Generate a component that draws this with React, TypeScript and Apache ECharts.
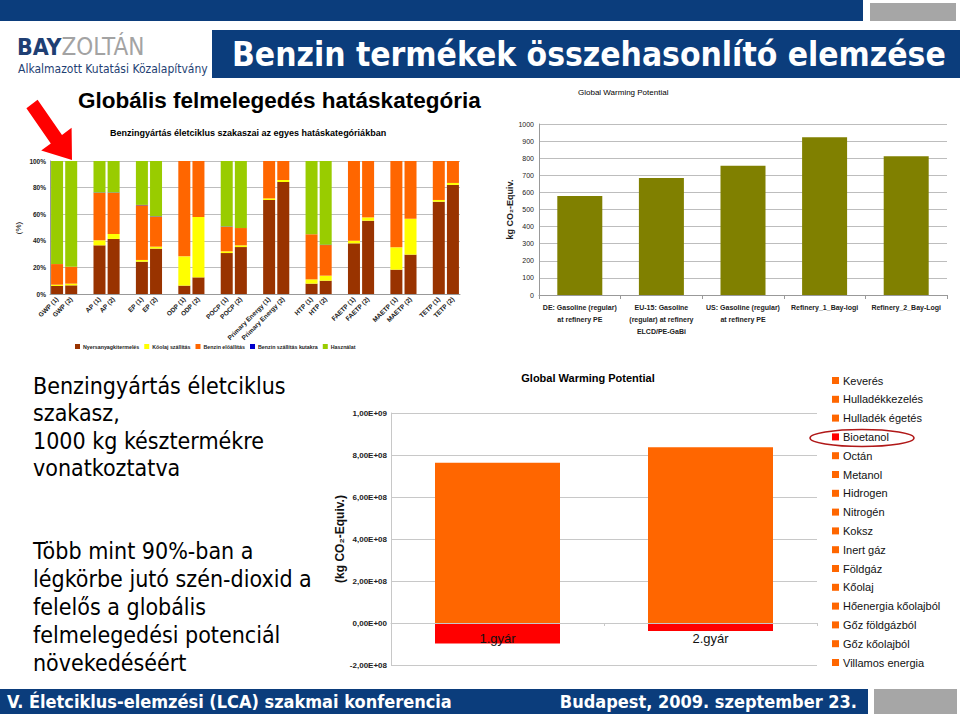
import React, { useEffect, useRef } from 'react';
import * as echarts from 'echarts';

// ---------- Top-left chart: life-cycle stage shares per impact category (%) ----------
const impactCategories = ['GWP (1)', 'GWP (2)', 'AP (1)', 'AP (2)', 'EP (1)', 'EP (2)', 'ODP (1)', 'ODP (2)', 'POCP (1)', 'POCP (2)', 'Primary Energy (1)', 'Primary Energy (2)', 'HTP (1)', 'HTP (2)', 'FAETP (1)', 'FAETP (2)', 'MAETP (1)', 'MAETP (2)', 'TETP (1)', 'TETP (2)'];
const stageNames = ['Nyersanyagkitermelés', 'Kőolaj szállítás', 'Benzin előállítás', 'Benzin szállítás kutakra', 'Használat'];
const nyersanyagkitermeles = [6, 6.5, 36.6, 41.4, 24.3, 34.1, 6.3, 12.5, 30.8, 35.3, 70.7, 84.2, 7.8, 10, 38.1, 55.1, 18.3, 29.6, 69.4, 82];
const koolajSzallitas = [1, 1.3, 3.8, 3.7, 1.3, 1.5, 22, 45.4, 1.3, 1.3, 1.2, 1.5, 3.2, 3.8, 2, 2.5, 16.8, 27, 1.3, 1.5];
const benzinElooallitas = [15.5, 12.7, 35.6, 30.9, 41.1, 22.5, 71.7, 42.1, 18.3, 13, 28.1, 14.3, 33.9, 23, 59.9, 42.4, 64.9, 43.4, 29.3, 16.5];
const benzinSzallitasKutakra = [0, 0, 0.3, 0.3, 0.3, 0.3, 0, 0, 0.3, 0, 0, 0, 0, 0.3, 0, 0, 0, 0, 0, 0];
const hasznalat = [77.5, 79.5, 23.7, 23.7, 33, 41.6, 0, 0, 49.3, 50.4, 0, 0, 55.1, 62.9, 0, 0, 0, 0, 0, 0];
const percentTicks = [0, 20, 40, 60, 80, 100];

// ---------- Top-right chart: GWP, kg CO2-Equiv. ----------
const refineryLabels = ['DE: Gasoline (regular)\nat refinery PE', 'EU-15: Gasoline\n(regular) at refinery\nELCD/PE-GaBi', 'US: Gasoline (regular)\nat refinery PE', 'Refinery_1_Bay-logi', 'Refinery_2_Bay-Logi'];
const gwpPerTonne = [579, 684, 756, 922, 811];

// ---------- Bottom chart: GWP per plant ----------
const plants = ['1.gyár', '2.gyár'];
const inputNames = ['Keverés', 'Hulladékkezelés', 'Hulladék égetés', 'Bioetanol', 'Octán', 'Metanol', 'Hidrogen', 'Nitrogén', 'Koksz', 'Inert gáz', 'Földgáz', 'Kőolaj', 'Hőenergia kőolajból', 'Gőz földgázból', 'Gőz kőolajból', 'Villamos energia'];
const plantOrangeTotal = [7.63e8, 8.37e8];
const plantBioetanol = [-0.98e8, -0.38e8];
const bottomAxisMin = -2e8;
const bottomAxisMax = 1e9;

const stageColors = ['#993300', '#ffff00', '#ff6600', '#0000cc', '#99cc00'];
const stageData = [nyersanyagkitermeles, koolajSzallitas, benzinElooallitas, benzinSzallitasKutakra, hasznalat];

const NAVY = '#0b3d7c';
const COND = '"DejaVu Sans Condensed", "DejaVu Sans", sans-serif';
const ARIAL = '"Liberation Sans", Arial, sans-serif';

function withGaps<T>(arr: T[], blank: T): T[] {
  const out: T[] = [];
  arr.forEach((v, i) => {
    out.push(v);
    if (i % 2 === 1 && i < arr.length - 1) out.push(blank);
  });
  return out;
}

function sci(v: number): string {
  if (v === 0) return '0,00E+00';
  const e = Math.floor(Math.log10(Math.abs(v)) + 1e-9);
  const m = v / Math.pow(10, e);
  return m.toFixed(2).replace('.', ',') + 'E' + (e < 0 ? '-' : '+') + String(Math.abs(e)).padStart(2, '0');
}

function txt(text: string, x: number, y: number, font: string, fill = '#000', align = 'left', extra: any = {}) {
  return { type: 'text', x, y, silent: true, style: { text, x: 0, y: 0, font, fill, align, verticalAlign: 'middle' }, ...extra };
}

function buildOption(): any {
  const tlCats = withGaps(impactCategories, '');
  const bottomGrid = { left: 391, top: 413, width: 426, height: 252 };
  const zeroOffset = -bottomGrid.height * (0 - bottomAxisMin) / (bottomAxisMax - bottomAxisMin);

  const graphic: any[] = [
    // header bars
    { type: 'rect', shape: { x: 0, y: 0, width: 863, height: 21 }, style: { fill: NAVY } },
    { type: 'rect', shape: { x: 870, y: 3, width: 86, height: 18 }, style: { fill: '#a6a6a6' } },
    { type: 'rect', shape: { x: 212, y: 30, width: 748, height: 48 }, style: { fill: NAVY } },
    txt('Benzin termékek összehasonlító elemzése', 232, 54, 'bold 33.3px ' + COND, '#ffffff'),
    // logo
    {
      type: 'text', x: 17, y: 47, silent: true,
      style: {
        text: '{a|BAY}{b|ZOLTÁN}', x: 0, y: 0, align: 'left', verticalAlign: 'middle',
        rich: {
          a: { font: 'bold 23px ' + COND, fill: '#1f3f73' },
          b: { font: '24px ' + COND, fill: '#a3a3a3' },
        },
      },
    },
    txt('Alkalmazott Kutatási Közalapítvány', 18, 69, '12px ' + COND, '#1f3f73'),
    // titles
    txt('Globális felmelegedés hatáskategória', 78, 100, 'bold 22.5px ' + ARIAL),
    txt('Global Warming Potential', 578, 92, '8px ' + ARIAL),
    txt('Benzingyártás életciklus szakaszai az egyes hatáskategóriákban', 110, 133, 'bold 9px ' + ARIAL),
    txt('(%)', 18, 228, '8px ' + ARIAL, '#000', 'center', { rotation: Math.PI / 2 }),
    // red arrow
    { type: 'polygon', shape: { points: [[37.6, 99.8], [62, 135], [71.6, 127.8], [72, 160], [41.2, 150.6], [50.8, 143.4], [26.4, 108.2]] }, style: { fill: '#ff0000' } },
    // left body text
    txt('Benzingyártás életciklus', 33, 386, '23px ' + COND),
    txt('szakasz,', 33, 413, '23px ' + COND),
    txt('1000 kg késztermékre', 33, 441, '23px ' + COND),
    txt('vonatkoztatva', 33, 468, '23px ' + COND),
    txt('Több mint 90%-ban a', 33, 551, '23px ' + COND),
    txt('légkörbe jutó szén-dioxid a', 33, 579, '23px ' + COND),
    txt('felelős a globális', 33, 607, '23px ' + COND),
    txt('felmelegedési potenciál', 33, 635, '23px ' + COND),
    txt('növekedéséért', 33, 663, '23px ' + COND),
    // bottom chart title
    txt('Global Warming Potential', 588, 378, 'bold 11px ' + ARIAL, '#000', 'center'),
    // ellipse around Bioetanol
    { type: 'ellipse', shape: { cx: 862, cy: 438, rx: 52, ry: 8.5 }, style: { fill: 'none', stroke: '#b01818', lineWidth: 1.5 }, z: 100 },
    // footer
    { type: 'rect', shape: { x: 0, y: 689, width: 868, height: 25 }, style: { fill: NAVY } },
    { type: 'rect', shape: { x: 874, y: 689, width: 83, height: 25 }, style: { fill: '#a6a6a6' } },
    txt('V. Életciklus-elemzési (LCA) szakmai konferencia', 7, 701, 'bold 18px ' + COND, '#ffffff'),
    txt('Budapest, 2009. szeptember 23.', 857, 701, 'bold 18px ' + COND, '#ffffff', 'right'),
  ];

  const series: any[] = [];
  stageNames.forEach((name, i) => {
    series.push({
      type: 'bar', name, stack: 'tl', xAxisIndex: 0, yAxisIndex: 0, barWidth: 12,
      itemStyle: { color: stageColors[i] },
      data: withGaps(stageData[i] as (number | null)[], null),
    });
  });
  series.push({
    type: 'bar', name: 'GWP', xAxisIndex: 1, yAxisIndex: 1, barWidth: 45,
    itemStyle: { color: '#808000' }, data: gwpPerTonne,
  });
  inputNames.forEach((name) => {
    let data: number[] = [];
    if (name === 'Kőolaj') data = plantOrangeTotal;
    if (name === 'Bioetanol') data = plantBioetanol;
    series.push({
      type: 'bar', name, stack: 'bottom', xAxisIndex: 2, yAxisIndex: 2, barWidth: 125,
      itemStyle: { color: name === 'Bioetanol' ? '#ff0000' : '#ff6600' }, data,
    });
  });

  return {
    animation: false,
    backgroundColor: '#ffffff',
    textStyle: { fontFamily: ARIAL },
    graphic,
    legend: [
      {
        data: stageNames, left: 75, top: 344, orient: 'horizontal', icon: 'rect',
        itemWidth: 5, itemHeight: 5, itemGap: 5, padding: 0,
        textStyle: { fontSize: 5.3, fontWeight: 'bold', color: '#222', fontFamily: ARIAL, padding: [0, 0, 0, -2] },
      },
      {
        data: inputNames, left: 832, top: 374, orient: 'vertical', icon: 'rect',
        itemWidth: 7, itemHeight: 7, itemGap: 5.8, padding: 0,
        textStyle: { fontSize: 11, color: '#111', lineHeight: 13, fontFamily: ARIAL, padding: [0, 0, 0, -1] },
      },
    ],
    grid: [
      { left: 50, top: 161, width: 410, height: 133 },
      { left: 539, top: 124, width: 408, height: 171 },
      bottomGrid,
    ],
    xAxis: [
      {
        type: 'category', gridIndex: 0, data: tlCats,
        axisLine: { lineStyle: { color: '#999' } }, axisTick: { show: false },
        axisLabel: { interval: 0, rotate: 45, fontSize: 6.5, fontWeight: 'bold', color: '#222', margin: 4 },
      },
      {
        type: 'category', gridIndex: 1, data: refineryLabels,
        axisLine: { lineStyle: { color: '#999' } },
        axisTick: { show: true, length: 4, lineStyle: { color: '#999' } },
        axisLabel: { interval: 0, fontSize: 7, fontWeight: 'bold', color: '#222', lineHeight: 12, margin: 6 },
      },
      {
        type: 'category', gridIndex: 2, data: plants, z: 10, position: 'bottom', offset: zeroOffset,
        axisLine: { onZero: false, lineStyle: { color: '#c8c8c8' } },
        axisTick: { show: true, length: 3, lineStyle: { color: '#c8c8c8' } },
        axisLabel: { interval: 0, fontSize: 13, color: '#111', margin: 9 },
      },
    ],
    yAxis: [
      {
        type: 'value', gridIndex: 0, min: percentTicks[0], max: percentTicks[percentTicks.length - 1], interval: 20,
        axisLine: { show: true, lineStyle: { color: '#999' } },
        axisLabel: { formatter: '{value}%', fontSize: 6.5, fontWeight: 'bold', color: '#222', margin: 4 },
        splitLine: { lineStyle: { color: '#bdbdbd' } },
      },
      {
        type: 'value', gridIndex: 1, min: 0, max: 1000, interval: 100,
        name: 'kg CO₂-Equiv.', nameLocation: 'middle', nameGap: 19, nameRotate: 90,
        nameTextStyle: { fontSize: 9, fontWeight: 'bold', color: '#222' },
        axisLine: { show: true, lineStyle: { color: '#999' } },
        axisLabel: { formatter: (v: number) => String(v), fontSize: 7, color: '#222', margin: 5 },
        splitLine: { lineStyle: { color: '#bdbdbd' } },
      },
      {
        type: 'value', gridIndex: 2, min: bottomAxisMin, max: bottomAxisMax, interval: 2e8,
        name: '(kg CO₂-Equiv.)', nameLocation: 'middle', nameGap: 44, nameRotate: 90,
        nameTextStyle: { fontSize: 12, fontWeight: 'bold', color: '#111' },
        axisLine: { show: true, lineStyle: { color: '#c8c8c8' } },
        axisLabel: { formatter: (v: number) => sci(v), fontSize: 8, fontWeight: 'bold', color: '#222', margin: 4 },
        splitLine: { lineStyle: { color: '#c8c8c8' } },
      },
    ],
    series,
  };
}

export default function App() {
  const ref = useRef<HTMLDivElement>(null);
  useEffect(() => {
    if (!ref.current) return;
    const chart = echarts.init(ref.current, null, { renderer: 'svg' });
    chart.setOption(buildOption());
    return () => chart.dispose();
  }, []);
  return <div ref={ref} style={{ position: 'fixed', left: 0, top: 0, width: 960, height: 716, background: '#fff' }} />;
}
